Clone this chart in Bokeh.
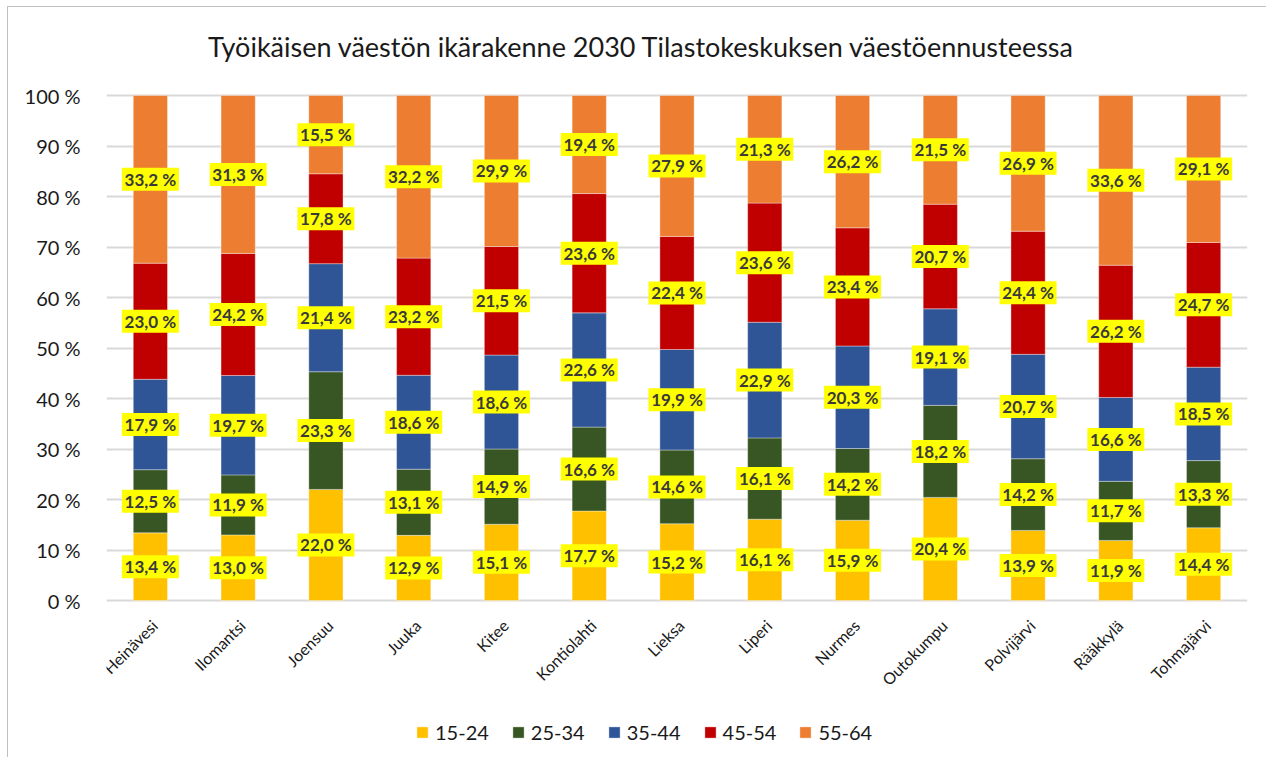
from bokeh.plotting import figure
from bokeh.models import ColumnDataSource, Range1d, FixedTicker, Label
from bokeh.core.properties import value
from bokeh.embed import file_html
from bokeh.resources import INLINE
import math

title_text = "Työikäisen väestön ikärakenne 2030 Tilastokeskuksen väestöennusteessa"
categories = ["Heinävesi", "Ilomantsi", "Joensuu", "Juuka", "Kitee", "Kontiolahti", "Lieksa",
              "Liperi", "Nurmes", "Outokumpu", "Polvijärvi", "Rääkkylä", "Tohmajärvi"]
series_names = ["15-24", "25-34", "35-44", "45-54", "55-64"]
s15_24 = [13.4, 13.0, 22.0, 12.9, 15.1, 17.7, 15.2, 16.1, 15.9, 20.4, 13.9, 11.9, 14.4]
s25_34 = [12.5, 11.9, 23.3, 13.1, 14.9, 16.6, 14.6, 16.1, 14.2, 18.2, 14.2, 11.7, 13.3]
s35_44 = [17.9, 19.7, 21.4, 18.6, 18.6, 22.6, 19.9, 22.9, 20.3, 19.1, 20.7, 16.6, 18.5]
s45_54 = [23.0, 24.2, 17.8, 23.2, 21.5, 23.6, 22.4, 23.6, 23.4, 20.7, 24.4, 26.2, 24.7]
s55_64 = [33.2, 31.3, 15.5, 32.2, 29.9, 19.4, 27.9, 21.3, 26.2, 21.5, 26.9, 33.6, 29.1]
ytick_values = [0, 10, 20, 30, 40, 50, 60, 70, 80, 90, 100]
ytick_labels = ["0 %", "10 %", "20 %", "30 %", "40 %", "50 %", "60 %", "70 %", "80 %", "90 %", "100 %"]

colors = ["#FFC000", "#375623", "#2F5597", "#C00000", "#ED7D31"]
raw = [s15_24, s25_34, s35_44, s45_54, s55_64]

# normalize to 100 % stacked
totals = [sum(r[i] for r in raw) for i in range(len(categories))]
norm = [[r[i] / totals[i] * 100 for i in range(len(categories))] for r in raw]

data = {"cat": categories}
keys = ["k0", "k1", "k2", "k3", "k4"]
for k, n in zip(keys, norm):
    data[k] = n
source = ColumnDataSource(data)

W, H = 1259, 751
PX_PER_UNIT = 505 / 100.0
PAD_TOP = 88      # space above the 100 % line (title area)
PAD_BOTTOM = H - PAD_TOP - 505
y_low = -PAD_BOTTOM / PX_PER_UNIT
y_high = 100 + PAD_TOP / PX_PER_UNIT

p = figure(x_range=categories, y_range=Range1d(y_low, y_high), width=W, height=H,
           output_backend="svg", toolbar_location=None, x_axis_location=None,
           min_border_left=98, min_border_right=20, min_border_top=0, min_border_bottom=0)
p.styles = {"margin-left": "7px", "margin-top": "6px",
            "border-left": "1px solid #bfbfbf", "border-top": "1px solid #bfbfbf"}
p.outline_line_color = None
p.background_fill_color = "white"
p.border_fill_color = "white"

renderers = p.vbar_stack(keys, x="cat", width=0.39, color=colors, source=source,
                         line_color="white", line_width=0.6, line_alpha=0.6,
                         legend_label=series_names)

# data labels
lx, ly, lt = [], [], []
for si in range(5):
    for i, c in enumerate(categories):
        base = sum(norm[j][i] for j in range(si))
        lx.append(c)
        ly.append(base + norm[si][i] / 2)
        lt.append(("%.1f %%" % raw[si][i]).replace(".", ","))
lsrc = ColumnDataSource({"x": lx, "y": ly, "t": lt})
p.rect(x="x", y="y", width=57, height=23, width_units="screen", height_units="screen",
       fill_color="#FFFF00", line_color=None, source=lsrc)
p.text(x="x", y="y", text="t", source=lsrc, text_align="center", text_baseline="middle",
       text_font=value("Lato"), text_font_style="bold", text_font_size="17px",
       text_color="#3a3a3a")

# category axis labels (rotated) drawn below the 0 % line
csrc = ColumnDataSource({"x": categories, "y": [0] * len(categories), "t": categories})
p.text(x="x", y="y", text="t", source=csrc, angle=math.pi / 4,
       text_align="right", text_baseline="middle", x_offset=4, y_offset=22,
       text_font=value("Lato"), text_font_size="16px", text_color="#1a1a1a")

# y axis
p.yaxis.ticker = FixedTicker(ticks=ytick_values)
p.yaxis.major_label_overrides = {v: l for v, l in zip(ytick_values, ytick_labels)}
p.yaxis.axis_line_color = None
p.yaxis.major_tick_line_color = None
p.yaxis.minor_tick_line_color = None
p.yaxis.major_label_standoff = 20
p.yaxis.major_label_text_font = "Lato"
p.yaxis.major_label_text_font_size = "20px"
p.yaxis.major_label_text_color = "#1a1a1a"

p.xgrid.grid_line_color = None
p.ygrid.ticker = FixedTicker(ticks=ytick_values)
p.ygrid.grid_line_color = "#d9d9d9"
p.ygrid.grid_line_width = 2

# title (inside the extended frame, screen units from frame bottom-left)
p.add_layout(Label(x=535, y=H - 39, x_units="screen", y_units="screen",
                   text=title_text, text_align="center", text_baseline="middle",
                   text_font="Lato", text_font_size="27px", text_color="#1a1a1a"))

# legend
leg = p.legend[0]
leg.orientation = "horizontal"
leg.location = (309, 14)
leg.border_line_color = None
leg.background_fill_alpha = 0
leg.padding = 0
leg.margin = 0
leg.spacing = 22
leg.label_standoff = 6
leg.glyph_width = 14
leg.glyph_height = 14
leg.label_text_font = "Lato"
leg.label_text_font_size = "20px"
leg.label_text_color = "#1a1a1a"

open("out.html", "w").write(file_html(p, INLINE))
